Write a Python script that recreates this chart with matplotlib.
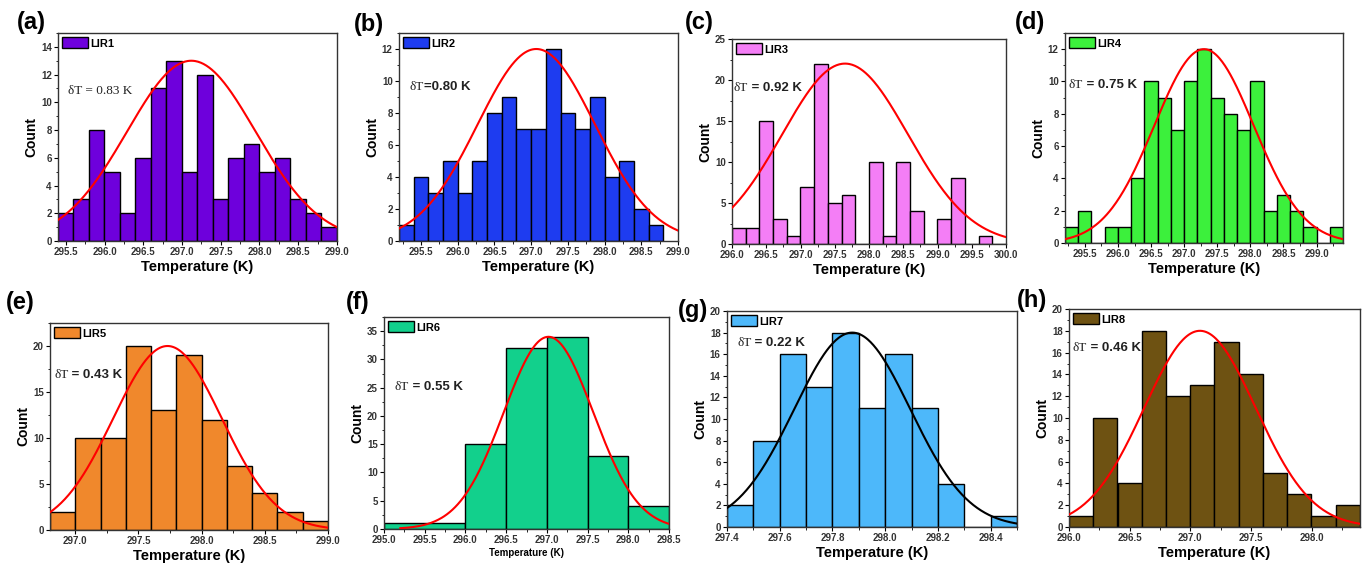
"""
Temperature-error histograms with Gaussian fits, LIR1..LIR8
"""
import numpy as np
import matplotlib
matplotlib.use("Agg")
import matplotlib.pyplot as plt
from matplotlib.patches import Patch
from matplotlib.ticker import AutoMinorLocator

plt.rcParams["font.family"] = ["Liberation Sans", "DejaVu Sans"]
plt.rcParams["font.weight"] = "bold"

# --- data ---
letters = ["(a)", "(b)", "(c)", "(d)", "(e)", "(f)", "(g)", "(h)"]
names = ["LIR1", "LIR2", "LIR3", "LIR4", "LIR5", "LIR6", "LIR7", "LIR8"]
delta_t = ["0.83", "0.80", "0.92", "0.75", "0.43", "0.55", "0.22", "0.46"]

edges_1 = np.arange(295.4, 299.01, 0.2)
counts_1 = [2, 3, 8, 5, 2, 6, 11, 13, 5, 12, 3, 6, 7, 5, 6, 3, 2, 1]
edges_2 = np.arange(295.2, 298.81, 0.2)
counts_2 = [1, 4, 3, 5, 3, 5, 8, 9, 7, 7, 12, 8, 7, 9, 4, 5, 2, 1]
edges_3 = np.arange(296.0, 300.01, 0.2)
counts_3 = [2, 2, 15, 3, 1, 7, 22, 5, 6, 0, 10, 1, 10, 4, 0, 3, 8, 0, 1, 0]
edges_4 = np.arange(295.2, 299.41, 0.2)
counts_4 = [1, 2, 0, 1, 1, 4, 10, 9, 7, 10, 12, 9, 8, 7, 10, 2, 3, 2, 1, 0, 1]
edges_5 = np.arange(296.8, 299.01, 0.2)
counts_5 = [2, 10, 10, 20, 13, 19, 12, 7, 4, 2, 1]
edges_6 = [295.0, 296.0, 296.5, 297.0, 297.5, 298.0, 298.5]
counts_6 = [1, 15, 32, 34, 13, 4]
edges_7 = np.arange(297.4, 298.51, 0.1)
counts_7 = [2, 8, 16, 13, 18, 11, 16, 11, 4, 0, 1]
edges_8 = np.arange(296.0, 298.41, 0.2)
counts_8 = [1, 10, 4, 18, 12, 13, 17, 14, 5, 3, 1, 2]

# Gaussian fits: centre, height, width (= delta T)
fit_center = [297.12, 297.07, 297.65, 297.30, 297.73, 297.02, 297.875, 297.08]
fit_height = [13, 12, 22, 12, 20, 34, 18, 18]
fit_sigma = [0.83, 0.80, 0.92, 0.75, 0.43, 0.55, 0.22, 0.46]
fit_start = [None, None, None, None, None, 295.2, None, None]

edges_all = [edges_1, edges_2, edges_3, edges_4, edges_5, edges_6, edges_7, edges_8]
counts_all = [counts_1, counts_2, counts_3, counts_4, counts_5, counts_6, counts_7, counts_8]

xlims = [(295.4, 299.0), (295.2, 299.0), (296.0, 300.0), (295.2, 299.4),
         (296.8, 299.0), (295.0, 298.5), (297.4, 298.5), (296.0, 298.4)]
ylims = [15, 13, 25, 13, 22.5, 37.5, 20, 20]
xticks = [np.arange(295.5, 299.01, 0.5), np.arange(295.5, 299.01, 0.5),
          np.arange(296.0, 300.01, 0.5), np.arange(295.5, 299.01, 0.5),
          np.arange(297.0, 299.01, 0.5), np.arange(295.0, 298.51, 0.5),
          np.arange(297.4, 298.41, 0.2), np.arange(296.0, 298.01, 0.5)]
ysteps = [2, 2, 5, 2, 5, 5, 2, 2]

colors = ["#6E00DC", "#1E3CF0", "#F47EF6", "#3CF03C",
          "#F0882C", "#12D08C", "#4DB8FA", "#6E5212"]
curve_colors = ["red"] * 6 + ["black", "red"]

# --- layout (pixel boxes of the axes: left, top, right, bottom) ---
W, H = 1362, 568
boxes = [(58, 33, 337, 241), (399, 33, 678, 241), (732, 39, 1006, 244), (1065, 33, 1343, 243),
         (50, 323, 328, 530), (384, 317, 669, 529), (727, 311, 1017, 527), (1069, 309, 1360, 527)]
letter_pos = [(17, 22), (354, 24), (685, 22), (1015, 22),
              (6, 302), (346, 303), (678, 310), (1017, 300)]
dt_pos = [(0.037, 0.72), (0.038, 0.74), (0.007, 0.76), (0.014, 0.75),
          (0.015, 0.75), (0.037, 0.67), (0.035, 0.85), (0.013, 0.82)]

fig = plt.figure(figsize=(W / 100, H / 100), dpi=100)

for i in range(8):
    x0, y0, x1, y1 = boxes[i]
    ax = fig.add_axes([x0 / W, 1 - y1 / H, (x1 - x0) / W, (y1 - y0) / H])

    edges = np.asarray(edges_all[i])
    ax.bar(edges[:-1], counts_all[i], width=np.diff(edges), align="edge",
           color=colors[i], edgecolor="black", linewidth=1.0, zorder=2)

    # fitted curve
    xs = np.linspace(fit_start[i] or xlims[i][0], xlims[i][1], 300)
    ys = fit_height[i] * np.exp(-(xs - fit_center[i]) ** 2 / (2 * fit_sigma[i] ** 2))
    ax.plot(xs, ys, color=curve_colors[i], lw=1.5, zorder=3)

    ax.set_xlim(*xlims[i])
    ax.set_ylim(0, ylims[i])
    ax.set_xticks(xticks[i])
    ax.set_xticklabels([f"{v:.1f}" for v in xticks[i]])
    ax.set_yticks(np.arange(0, ylims[i] + 0.01, ysteps[i]))
    ax.yaxis.set_minor_locator(AutoMinorLocator(2))
    ax.xaxis.set_minor_locator(AutoMinorLocator(2))
    ax.tick_params(which="major", direction="out", length=3, width=0.8,
                   labelsize=7, pad=1.5)
    ax.tick_params(which="minor", direction="out", length=1.8, width=0.6)
    for lab in ax.get_xticklabels() + ax.get_yticklabels():
        lab.set_fontweight("bold")
        lab.set_color("#333333")
    for sp in ax.spines.values():
        sp.set_linewidth(1.0)
        sp.set_color("#333333")

    xl_size = 7 if i == 5 else 10.5
    ax.set_xlabel("Temperature (K)", fontsize=xl_size, fontweight="bold", labelpad=2)
    ax.set_ylabel("Count", fontsize=10, fontweight="bold", labelpad=2)

    ax.legend(handles=[Patch(facecolor=colors[i], edgecolor="black", linewidth=1.0)],
              labels=[names[i]], loc="upper left", frameon=False,
              handlelength=2.3, handleheight=1.1, handletextpad=0.2,
              borderaxespad=0.2, borderpad=0.2, prop={"weight": "bold", "size": 8})

    # delta T annotation
    tx, ty = dt_pos[i]
    if i == 0:
        ax.text(tx, ty, f"\u03b4T = {delta_t[i]} K", transform=ax.transAxes,
                family="Liberation Serif", fontweight="normal", fontsize=9.5,
                va="center", ha="left", color="#222222")
    else:
        sep = "=" if i == 1 else " = "
        t1 = ax.text(tx, ty, "\u03b4T", transform=ax.transAxes,
                     family="Liberation Serif", fontweight="normal", fontsize=9.5,
                     va="center", ha="left", color="#222222")
        ax.annotate(f"{sep}{delta_t[i]} K", xy=(1, 0.5), xycoords=t1,
                    va="center", ha="left", fontsize=9.5, fontweight="bold",
                    color="#222222")

    lx, ly = letter_pos[i]
    fig.text(lx / W, 1 - ly / H, letters[i], fontsize=17, fontweight="bold",
             va="center", ha="left")

fig.savefig("out.png", dpi=100)
